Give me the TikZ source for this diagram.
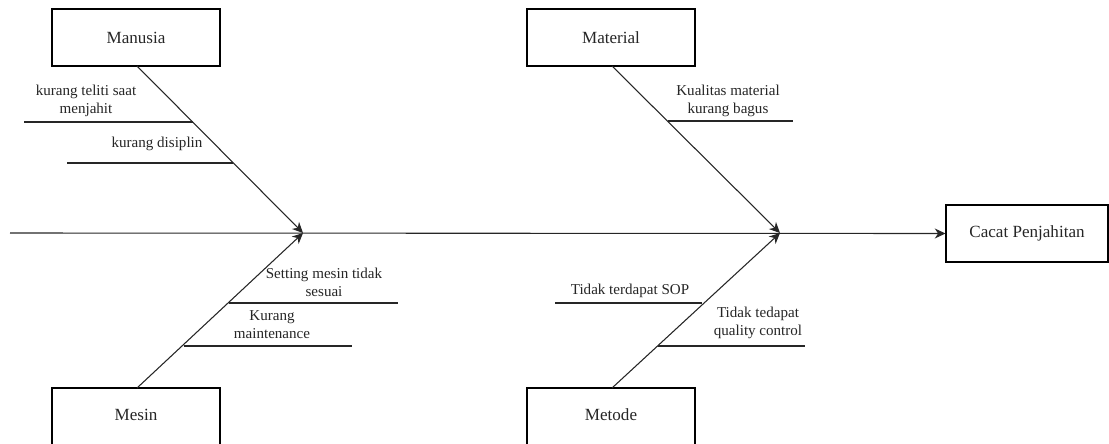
\documentclass[tikz,border=0pt]{standalone}
\usepackage{fontspec}
\setmainfont{Liberation Serif}
\usetikzlibrary{arrows.meta}
\begin{document}
\begin{tikzpicture}[x=0.75pt,y=-0.75pt,
  every node/.style={font=\fontsize{11.3pt}{13.5pt}\selectfont, text=black!85},
  boxfont/.style={font=\fontsize{12.8pt}{15pt}\selectfont},
  catbox/.style={draw, line width=0.8pt, minimum width=126pt, minimum height=42.75pt, inner sep=0pt},
  effbox/.style={draw, line width=0.8pt, minimum width=121.5pt, minimum height=42.75pt, inner sep=0pt, boxfont},
  lbl/.style={align=center, inner sep=0pt},
  bone/.style={line width=0.8pt, black!85},
  arr/.style={line width=0.8pt, black!85, -{Stealth[length=8pt, width=7.5pt, inset=2.5pt]}}]
\useasboundingbox (0,0) rectangle (1109,443);
% category boxes
\node[catbox, boxfont] (manusia) at (136,37.5) {Manusia};
\node[catbox, boxfont] (material) at (611,37.5) {Material};
\node[catbox] (mesin) at (136,416.5) {};
\node[boxfont] (mesinlbl) at (136,415) {Mesin};
\node[catbox] (metode) at (611,416.5) {};
\node[boxfont] (metodelbl) at (611,415) {Metode};
\node[effbox] (cacat) at (1027,233.5) {Cacat Penjahitan};
% spine
\coordinate (tail) at (10,233);
\coordinate (j1) at (303,233);
\coordinate (j2) at (780,233);
\draw[arr] (tail) -- (cacat.west);
% diagonals
\coordinate (m1) at (137,66);
\coordinate (m2) at (137,388);
\coordinate (m3) at (612,66);
\coordinate (m4) at (612,388);
\draw[arr] (m1) -- (j1);
\draw[arr] (m2) -- (j1);
\draw[arr] (m3) -- (j2);
\draw[arr] (m4) -- (j2);
% sub-causes: Manusia
\coordinate (a1) at (24,122); \coordinate (a2) at (193,122);
\draw[bone] (a1) -- (a2);
\node[lbl] (ta) at (86,101) {kurang teliti saat\\menjahit};
\coordinate (b1) at (67,163); \coordinate (b2) at (233,163);
\draw[bone] (b1) -- (b2);
\node[lbl] (tb) at (157,144) {kurang disiplin};
% Material
\coordinate (c1) at (668,121); \coordinate (c2) at (793,121);
\draw[bone] (c1) -- (c2);
\node[lbl] (tc) at (728,101) {Kualitas material\\kurang bagus};
% Mesin
\coordinate (d1) at (229,303); \coordinate (d2) at (398,303);
\draw[bone] (d1) -- (d2);
\node[lbl] (td) at (324,282) {Setting mesin tidak\\sesuai};
\coordinate (e1) at (184,346); \coordinate (e2) at (352,346);
\draw[bone] (e1) -- (e2);
\node[lbl] (te) at (272,325) {Kurang\\maintenance};
% Metode
\coordinate (f1) at (555,303); \coordinate (f2) at (702,303);
\draw[bone] (f1) -- (f2);
\node[lbl] (tf) at (630,291) {Tidak terdapat SOP};
\coordinate (g1) at (658,346); \coordinate (g2) at (805,346);
\draw[bone] (g1) -- (g2);
\node[lbl] (tg) at (758,323) {Tidak tedapat\\quality control};
\end{tikzpicture}
\end{document}
